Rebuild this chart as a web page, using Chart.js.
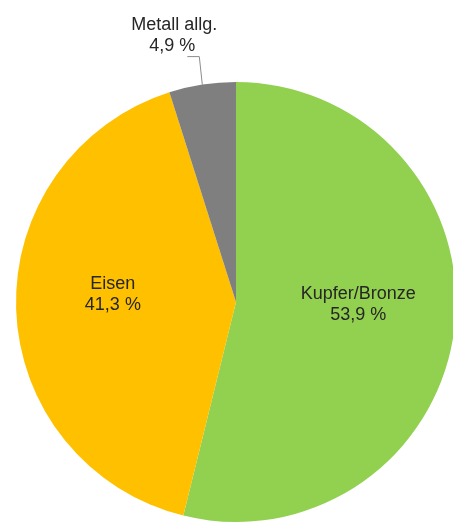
<!DOCTYPE html>
<html>
<head>
<meta charset="utf-8">
<script src="https://cdn.jsdelivr.net/npm/chart.js@4/dist/chart.umd.min.js"></script>
<style>
  html, body { margin: 0; padding: 0; background: #fff; overflow: hidden; }
  #wrap { position: relative; width: 453px; height: 526px; overflow: hidden; }
  canvas { position: absolute; left: 0; top: 0; }
</style>
</head>
<body>
<div id="wrap"><canvas id="chart" width="472" height="526"></canvas></div>
<script>
const categories = ['Kupfer/Bronze', 'Eisen', 'Metall allg.'];
const shares = [53.9, 41.3, 4.9];
const sliceColors = ['#92D050', '#FFC000', '#7F7F7F'];

const fmt = (v) => v.toFixed(1).replace('.', ',') + ' %';

// labels inside big slices, small slice gets an outside label with leader line
const sliceLabels = {
  id: 'sliceLabels',
  afterDatasetsDraw(chart) {
    const ctx = chart.ctx;
    const arcs = chart.getDatasetMeta(0).data;
    ctx.save();
    ctx.font = '18px "Liberation Sans", Arial, sans-serif';
    ctx.fillStyle = '#262626';
    ctx.textAlign = 'center';
    ctx.textBaseline = 'middle';
    arcs.forEach((arc, i) => {
      const mid = (arc.startAngle + arc.endAngle) / 2;
      const r = arc.outerRadius;
      if (shares[i] > 10) {
        const x = arc.x + Math.cos(mid) * r * 0.56;
        const y = arc.y + Math.sin(mid) * r * 0.56 - 12;
        ctx.fillText(categories[i], x, y - 10.5);
        ctx.fillText(fmt(shares[i]), x, y + 10.5);
      } else {
        const ex = arc.x + Math.cos(mid) * r;
        const ey = arc.y + Math.sin(mid) * r;
        ctx.strokeStyle = '#8c8c8c';
        ctx.lineWidth = 1;
        ctx.beginPath();
        ctx.moveTo(ex, ey);
        ctx.lineTo(ex - 3, ey - 28);
        ctx.lineTo(ex - 15, ey - 28);
        ctx.stroke();
        ctx.fillText(categories[i], ex - 28, ey - 60);
        ctx.fillText(fmt(shares[i]), ex - 30, ey - 39);
      }
    });
    ctx.restore();
  }
};

new Chart(document.getElementById('chart'), {
  type: 'pie',
  data: {
    labels: categories,
    datasets: [{
      data: shares,
      backgroundColor: sliceColors,
      borderWidth: 0
    }]
  },
  options: {
    responsive: false,
    animation: false,
    layout: { padding: { top: 82, bottom: 4, left: 16, right: 16 } },
    plugins: {
      legend: { display: false },
      tooltip: { enabled: false }
    }
  },
  plugins: [sliceLabels]
});
</script>
</body>
</html>
